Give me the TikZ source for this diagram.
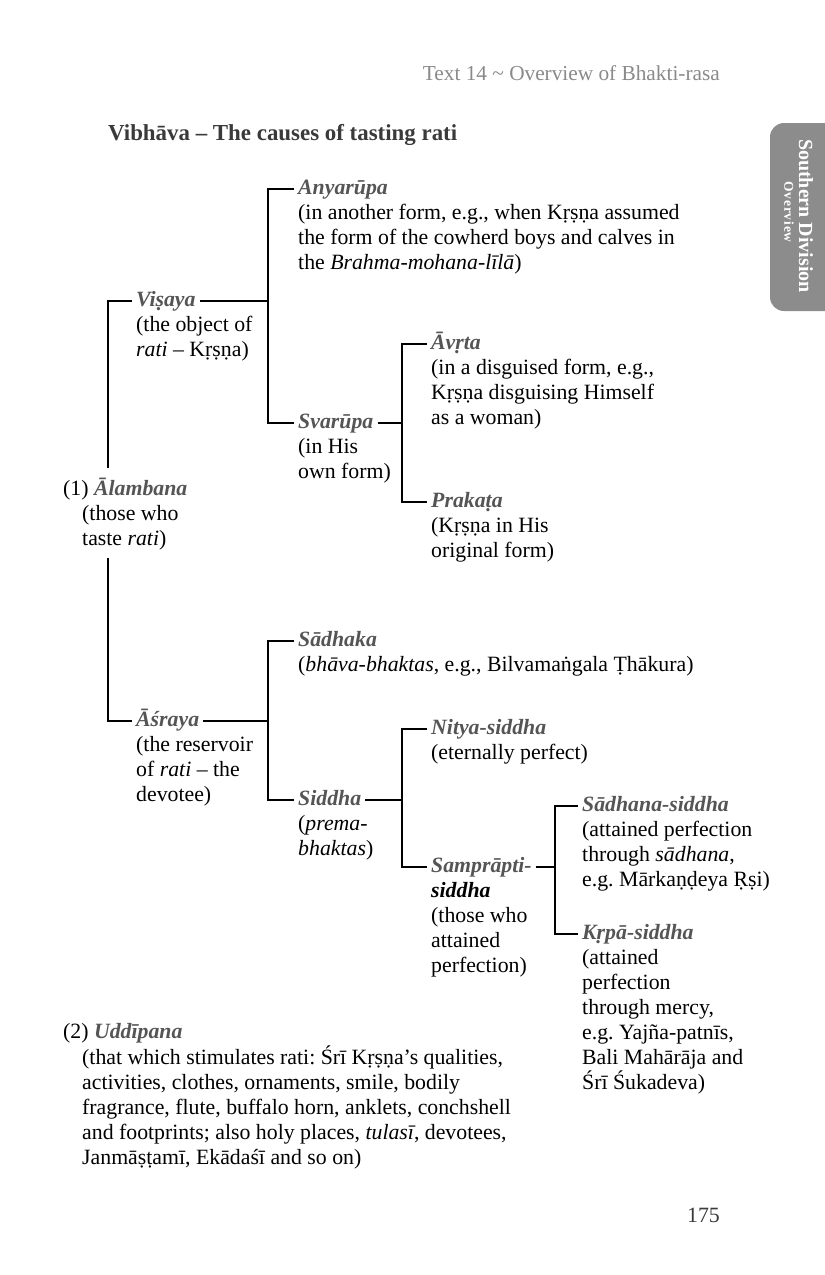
\documentclass[tikz,border=0pt]{standalone}
\usepackage{fontspec}
\setmainfont{Liberation Serif}
\usetikzlibrary{positioning}
\definecolor{labgray}{HTML}{555555}
\definecolor{headgray}{HTML}{8A8A8A}
\definecolor{tabgray}{HTML}{8C8C8C}
\definecolor{titlegray}{HTML}{3A3A3A}
\newcommand{\lab}[1]{{\color{labgray}\bfseries\itshape #1}}
\frenchspacing

\begin{document}
\begin{tikzpicture}[x=1pt,y=-1pt,
  every node/.style={font=\fontsize{21.8}{25}\selectfont},
  head/.style={inner xsep=4pt,inner ysep=0pt,anchor=base west,execute at begin node=\strut},
  term/.style={head,text=labgray,font=\fontsize{21.8}{25}\selectfont\bfseries\itshape},
  desc/.style={inner xsep=4pt,inner ysep=0pt,align=left},
  tree/.style={line width=1.8pt}
  ]
\fill[white] (0,0) rectangle (825,1275);
\useasboundingbox (0,0) rectangle (825,1275);
% page furniture
\node[anchor=base east,inner sep=0pt,text=headgray,font=\fontsize{21.3}{25}\selectfont] (runhead) at (720,80) {Text 14 \textasciitilde{} Overview of Bhakti-rasa};
\fill[tabgray,rounded corners=14pt] (770,123) rectangle (850,311);
\node[rotate=-90,text=white,font=\fontsize{20}{22}\selectfont\bfseries] (tabA) at (806,216) {Southern Division};
\node[rotate=-90,text=white,font=\fontsize{13.5}{15}\selectfont\bfseries\addfontfeatures{LetterSpace=6}] (tabB) at (789,212) {Overview};
\node[anchor=base west,inner sep=0pt,text=titlegray,font=\fontsize{22.9}{25}\selectfont\bfseries] (title) at (108,140) {Vibhāva – The causes of tasting rati};
\node[anchor=base east,inner sep=0pt,text=titlegray] (pagenum) at (720,1222) {175};

\coordinate (trunk) at (108,0);
\coordinate (forkA) at (268,0);
\coordinate (forkB) at (402,0);
\coordinate (forkC) at (555,0);

% upper branch
\node[term] (anyarupa) at (294,194) {Anyarūpa};
\node[desc,below right=0pt of anyarupa.south west] (anyarupaD) {\strut(in another form, e.g., when Kṛṣṇa assumed\\the form of the cowherd boys and calves in\\the \textit{Brahma-mohana-līlā})};
\node[term] (visaya) at (132,306) {Viṣaya};
\node[desc,below right=0pt of visaya.south west] (visayaD) {\strut(the object of\\\textit{rati} – Kṛṣṇa)};
\node[term] (avrta) at (427,349) {Āvṛta};
\node[desc,below right=0pt of avrta.south west] (avrtaD) {\strut(in a disguised form, e.g.,\\Kṛṣṇa disguising Himself\\as a woman)};
\node[term] (svarupa) at (294,428) {Svarūpa};
\node[desc,below right=0pt of svarupa.south west] (svarupaD) {\strut(in His\\own form)};
\node[term] (prakata) at (427,507) {Prakaṭa};
\node[desc,below right=0pt of prakata.south west] (prakataD) {\strut(Kṛṣṇa in His\\original form)};
\node[head] (alambana) at (59,495) {(1) \lab{Ālambana}};
\node[desc,below right=0pt and 19pt of alambana.south west] (alambanaD) {\strut(those who\\taste \textit{rati})};

% lower branch
\node[term] (sadhaka) at (294,646) {Sādhaka};
\node[desc,below right=0pt of sadhaka.south west] (sadhakaD) {\strut(\textit{bhāva-bhaktas}, e.g., Bilvamaṅgala Ṭhākura)};
\node[term] (asraya) at (132,726) {Āśraya};
\node[desc,below right=0pt of asraya.south west] (asrayaD) {\strut(the reservoir\\of \textit{rati} – the\\devotee)};
\node[term] (nitya) at (427,734) {Nitya-siddha};
\node[desc,below right=0pt of nitya.south west] (nityaD) {\strut(eternally perfect)};
\node[term] (siddha) at (294,805) {Siddha};
\node[desc,below right=0pt of siddha.south west] (siddhaD) {\strut(\textit{prema-}\\\textit{bhaktas})};
\node[term] (sampra) at (427,872) {Samprāpti-};
\node[desc,below right=0pt of sampra.south west] (sampraD) {\strut\textbf{\textit{siddha}}\\(those who\\attained\\perfection)};
\node[term] (sadhana) at (578,811) {Sādhana-siddha};
\node[desc,below right=0pt of sadhana.south west] (sadhanaD) {\strut(attained perfection\\through \textit{sādhana},\\e.g. Mārkaṇḍeya Ṛṣi)};
\node[term] (krpa) at (578,939) {Kṛpā-siddha};
\node[desc,below right=0pt of krpa.south west] (krpaD) {\strut(attained\\perfection\\through mercy,\\e.g. Yajña-patnīs,\\Bali Mahārāja and\\Śrī Śukadeva)};
\node[head] (uddipana) at (59,1038) {(2) \lab{Uddīpana}};
\node[desc,below right=0pt and 19pt of uddipana.south west] (uddipanaD) {\strut(that which stimulates rati: Śrī Kṛṣṇa’s qualities,\\activities, clothes, ornaments, smile, bodily\\fragrance, flute, buffalo horn, anklets, conchshell\\and footprints; also holy places, \textit{tulasī}, devotees,\\Janmāṣṭamī, Ekādaśī and so on)};

% connectors
\draw[tree] (visaya.west) -| ([yshift=9pt]alambana.north -| trunk);
\draw[tree] (asraya.west) -| ([yshift=-8pt]alambanaD.south -| trunk);
\draw[tree] (visaya.east) -- (visaya.east -| forkA);
\draw[tree] (anyarupa.west) -| (visaya.east -| forkA) |- (svarupa.west);
\draw[tree] (svarupa.east) -- (svarupa.east -| forkB);
\draw[tree] (avrta.west) -| (svarupa.east -| forkB) |- (prakata.west);
\draw[tree] (asraya.east) -- (asraya.east -| forkA);
\draw[tree] (sadhaka.west) -| (asraya.east -| forkA) |- (siddha.west);
\draw[tree] (siddha.east) -- (siddha.east -| forkB);
\draw[tree] (nitya.west) -| (siddha.east -| forkB) |- (sampra.west);
\draw[tree] (sampra.east) -- (sampra.east -| forkC);
\draw[tree] (sadhana.west) -| (sampra.east -| forkC) |- (krpa.west);
\end{tikzpicture}
\end{document}
